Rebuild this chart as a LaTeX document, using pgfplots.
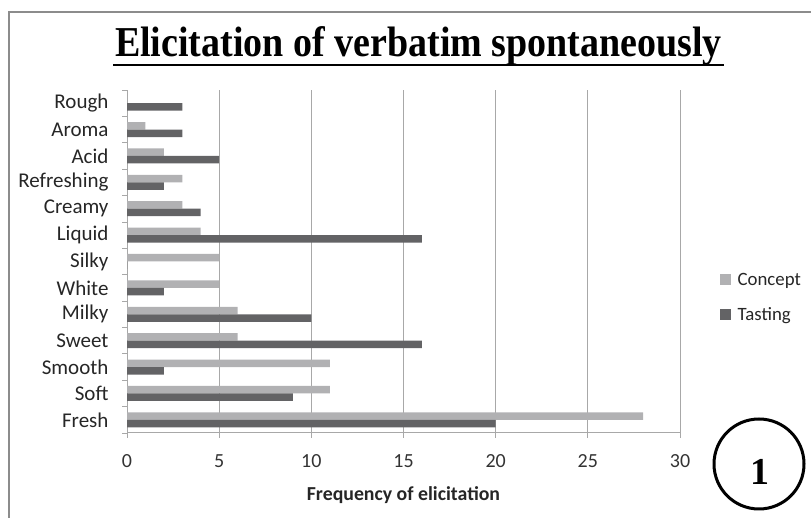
\documentclass[border=0pt]{standalone}
\usepackage{pgfplots}
\pgfplotsset{compat=1.18}
\usepackage{fontspec}
\setmainfont{Carlito}
\newfontfamily\titlefont{Liberation Serif}
\definecolor{concept}{HTML}{B1B1B3}
\definecolor{tasting}{HTML}{636365}
\definecolor{gridc}{HTML}{A8A8A8}
\definecolor{framec}{HTML}{8C8C8C}
\begin{document}
\begin{tikzpicture}[x=1pt,y=1pt]
\useasboundingbox (0,0) rectangle (811,518);
% outer frame (left and top edges visible)
\draw[framec,line width=1.6pt] (9,0) -- (9,506) -- (811,506);
% title
\node[anchor=center,inner sep=0,yscale=1.12] at (418.5,472) {\titlefont\bfseries\fontsize{38}{40}\selectfont Elicitation of verbatim spontaneously};
\draw[black,line width=2pt] (113,453) -- (724,453);
\begin{axis}[
  at={(127pt,85pt)}, anchor=south west,
  scale only axis, width=553pt, height=343pt,
  xbar, bar width=7.5pt,
  xmin=0, xmax=30, ymin=-0.5, ymax=12.5,
  xtick={0,5,...,30},
  ytick={0,...,12},
  yticklabels={Fresh,Soft,Smooth,Sweet,Milky,White,Silky,Liquid,Creamy,Refreshing,Acid,Aroma,Rough},
  minor ytick={-0.5,0.5,...,12.5},
  axis lines=left, axis line style={-,gridc,line width=1pt},
  xmajorgrids, major grid style={gridc,line width=0.8pt},
  tick align=outside,
  major tick length=5pt, minor tick length=5pt,
  x tick style={gridc,line width=0.8pt},
  major y tick style={draw=none},
  minor y tick style={gridc,line width=0.8pt},
  /pgf/number format/assume math mode=true,
  xticklabel style={font=\fontsize{20}{22}\selectfont\color{black!80}, yshift=-13pt},
  yticklabel style={font=\fontsize{21}{23}\selectfont\color{black!85}, xshift=-10pt},
  xlabel={\bfseries Frequency of elicitation},
  xlabel style={font=\fontsize{19.8}{22}\selectfont\color{black!85}, yshift=-12pt},
  legend style={at={(1.066,0.395)}, anchor=west, draw=none, fill=none,
    font=\fontsize{18.8}{21}\selectfont\color{black!85}, row sep=17pt,
    /tikz/every odd column/.append style={column sep=5pt}},
  legend cell align=left,
  legend image code/.code={\fill[#1,draw=none] (0pt,-5.5pt) rectangle (11pt,5.5pt);},
  clip=false,
]
\addplot[fill=concept, draw=none, bar shift=3.75pt] coordinates {
 (28,0) (11,1) (11,2) (6,3) (6,4) (5,5) (5,6) (4,7) (3,8) (3,9) (2,10) (1,11) (0,12)};
\addplot[fill=tasting, draw=none, bar shift=-3.75pt] coordinates {
 (20,0) (9,1) (2,2) (16,3) (10,4) (2,5) (0,6) (16,7) (4,8) (2,9) (5,10) (3,11) (3,12)};
\legend{Concept,Tasting}
\end{axis}
% circled number
\draw[black,line width=3pt] (759,54) circle (45);
\node[inner sep=0] at (760,46) {\titlefont\bfseries\fontsize{38}{40}\selectfont 1};
\end{tikzpicture}
\end{document}
